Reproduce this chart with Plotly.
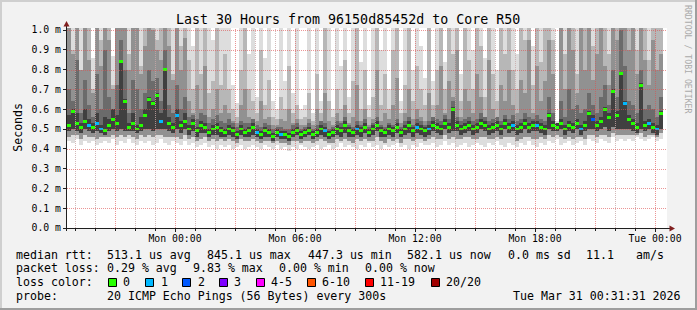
import plotly.graph_objects as go
import pandas as pd

# ---------------- data (values in hundredths of a millisecond) ----------------
MED = [52, 59, 53, 51, 54, 52, 51, 53, 50, 49,
       52, 55, 53, 84, 64, 51, 53, 50, 52, 57,
       65, 63, 67, 54, 80, 53, 51, 57, 52, 54,
       50, 53, 49, 52, 51, 48, 50, 51, 49, 48,
       50, 49, 47, 50, 48, 49, 51, 48, 47, 49,
       48, 46, 48, 47, 47, 46, 48, 49, 47, 48,
       49, 47, 48, 50, 49, 47, 48, 50, 49, 52,
       49, 48, 50, 49, 51, 48, 50, 52, 49, 48,
       50, 49, 51, 48, 50, 52, 49, 51, 50, 49,
       50, 52, 51, 50, 53, 51, 60, 52, 50, 51,
       52, 50, 51, 53, 52, 50, 51, 52, 50, 53,
       51, 52, 50, 51, 53, 51, 52, 52, 51, 50,
       57, 52, 51, 53, 50, 52, 51, 53, 50, 52,
       58, 55, 52, 54, 60, 56, 69, 57, 78, 63,
       55, 53, 51, 72, 52, 53, 51, 50, 58]

LOSS = [0, 0, 0, 0, 0, 1, 0, 1, 1, 0,
        0, 0, 0, 0, 0, 0, 0, 0, 0, 0,
        0, 0, 0, 1, 0, 0, 0, 1, 0, 0,
        0, 0, 0, 0, 0, 0, 0, 0, 0, 0,
        0, 0, 0, 0, 0, 0, 0, 1, 0, 0,
        0, 0, 0, 1, 0, 0, 0, 0, 0, 0,
        0, 0, 0, 0, 1, 0, 0, 0, 0, 0,
        0, 0, 1, 0, 0, 0, 0, 0, 0, 0,
        0, 0, 0, 0, 0, 0, 0, 1, 0, 0,
        1, 0, 0, 0, 0, 0, 0, 0, 0, 0,
        0, 0, 0, 0, 0, 0, 0, 0, 0, 0,
        0, 1, 0, 0, 0, 0, 0, 1, 0, 0,
        0, 0, 0, 0, 0, 0, 0, 0, 1, 0,
        0, 2, 0, 0, 0, 0, 0, 0, 0, 1,
        0, 0, 0, 0, 0, 1, 0, 1, 0]

TOP = [105, 105, 105, 105, 105, 105, 86, 105, 105, 105,
       105, 87, 105, 105, 105, 105, 105, 105, 105, 105,
       105, 105, 105, 105, 105, 105, 105, 105, 105, 105,
       105, 92, 105, 105, 105, 105, 95, 105, 105, 105,
       105, 72, 63, 105, 105, 88, 105, 66, 105, 86,
       105, 64, 60, 105, 74, 105, 68, 105, 60, 62,
       105, 58, 105, 64, 105, 105, 60, 105, 82, 105,
       66, 105, 105, 84, 105, 62, 105, 105, 90, 105,
       70, 105, 105, 64, 105, 105, 80, 105, 92, 76,
       105, 74, 105, 105, 84, 105, 105, 105, 78, 105,
       105, 90, 105, 105, 86, 105, 105, 80, 105, 105,
       105, 105, 88, 105, 105, 105, 92, 105, 105, 105,
       105, 105, 54, 105, 105, 105, 105, 105, 105, 105,
       105, 105, 105, 105, 105, 105, 105, 105, 105, 105,
       105, 105, 105, 105, 105, 105, 105, 105, 105]

HI_B = [105, 90, 105, 80, 105, 105, 70, 105, 95, 105,
        105, 72, 105, 105, 105, 88, 105, 105, 82, 105,
        105, 105, 95, 105, 105, 105, 78, 105, 92, 105,
        85, 70, 105, 78, 105, 68, 74, 105, 72, 88,
        70, 60, 56, 80, 105, 70, 64, 58, 90, 62,
        75, 56, 55, 66, 60, 82, 58, 62, 55, 56,
        68, 54, 78, 58, 105, 64, 56, 70, 60, 85,
        58, 74, 105, 60, 80, 56, 66, 105, 62, 78,
        60, 90, 105, 58, 72, 105, 64, 82, 70, 62,
        105, 62, 80, 105, 70, 105, 88, 105, 64, 105,
        85, 70, 105, 92, 66, 105, 78, 64, 105, 88,
        105, 80, 70, 105, 95, 105, 72, 105, 84, 105,
        105, 95, 53, 105, 88, 105, 105, 78, 105, 105,
        105, 92, 105, 105, 105, 88, 105, 105, 105, 105,
        105, 105, 90, 105, 105, 85, 105, 105, 105]

HI_C = [105, 88, 105, 80, 105, 85, 68, 105, 82, 105,
        95, 70, 105, 105, 105, 80, 105, 105, 78, 92,
        105, 100, 90, 85, 105, 92, 75, 105, 80, 96,
        64, 58, 72, 60, 82, 56, 60, 70, 58, 62,
        58, 54, 53, 62, 70, 56, 55, 54, 64, 55,
        56, 52, 52, 55, 54, 60, 53, 55, 52, 52,
        55, 52, 60, 53, 68, 54, 52, 58, 54, 62,
        53, 56, 72, 54, 60, 52, 55, 80, 54, 58,
        55, 62, 76, 53, 58, 70, 55, 60, 56, 54,
        68, 56, 62, 82, 58, 74, 66, 90, 56, 70,
        64, 58, 78, 66, 56, 85, 60, 56, 72, 64,
        80, 62, 58, 75, 68, 95, 58, 82, 64, 74,
        95, 78, 52, 105, 70, 105, 90, 68, 105, 80,
        105, 75, 88, 105, 82, 72, 105, 95, 105, 105,
        90, 105, 78, 105, 85, 72, 95, 80, 88]

HI_D = [70, 64, 85, 58, 75, 62, 56, 78, 60, 90,
        66, 60, 72, 95, 80, 58, 75, 70, 60, 68,
        80, 74, 76, 64, 90, 62, 58, 72, 60, 66,
        56, 57, 55, 58, 57, 53, 55, 57, 54, 53,
        55, 53, 51, 54, 53, 53, 55, 52, 51, 53,
        52, 50, 51, 51, 50, 50, 52, 53, 50, 51,
        53, 50, 52, 54, 53, 50, 51, 54, 53, 56,
        52, 51, 54, 52, 55, 51, 53, 56, 52, 51,
        53, 52, 55, 51, 54, 56, 52, 55, 54, 52,
        54, 56, 55, 54, 57, 55, 64, 56, 54, 55,
        56, 54, 55, 58, 56, 54, 55, 56, 54, 57,
        55, 57, 54, 55, 58, 56, 55, 57, 55, 54,
        66, 58, 51, 64, 56, 70, 60, 62, 58, 60,
        68, 62, 58, 66, 72, 62, 80, 66, 100, 82,
        64, 62, 58, 80, 60, 62, 60, 56, 66]

HI_E = [57, 60, 58, 53, 60, 55, 53, 58, 52, 56,
        55, 60, 57, 85, 65, 53, 58, 52, 56, 60,
        66, 64, 68, 58, 81, 56, 53, 60, 54, 58,
        52, 55, 51, 54, 53, 50, 52, 53, 51, 50,
        52, 51, 49, 52, 50, 51, 53, 50, 49, 51,
        50, 48, 50, 49, 49, 48, 50, 51, 49, 50,
        51, 49, 50, 52, 51, 49, 50, 52, 51, 54,
        51, 50, 52, 51, 53, 50, 52, 54, 51, 50,
        52, 51, 53, 50, 52, 54, 51, 53, 52, 51,
        52, 54, 53, 52, 55, 53, 61, 54, 52, 53,
        54, 52, 53, 55, 54, 52, 53, 54, 52, 55,
        53, 54, 52, 53, 55, 53, 54, 54, 53, 52,
        58, 54, 53, 55, 52, 54, 53, 55, 52, 54,
        59, 57, 54, 56, 61, 58, 70, 59, 79, 64,
        57, 55, 53, 73, 54, 55, 53, 52, 59]

LOW_A = [44, 43, 45, 42, 44, 43, 44, 42, 43, 44,
         43, 45, 42, 44, 43, 45, 43, 42, 44, 43,
         44, 42, 43, 45, 43, 42, 44, 43, 42, 44,
         42, 43, 41, 42, 43, 41, 42, 40, 42, 41,
         42, 40, 41, 42, 40, 41, 42, 41, 40, 42,
         41, 40, 42, 40, 41, 39, 41, 40, 42, 41,
         40, 41, 42, 40, 41, 42, 40, 41, 43, 41,
         42, 41, 40, 42, 41, 43, 41, 42, 40, 42,
         41, 42, 43, 41, 42, 40, 42, 41, 43, 42,
         42, 43, 41, 42, 44, 42, 43, 41, 42, 43,
         41, 42, 43, 42, 41, 43, 42, 44, 42, 41,
         43, 42, 41, 43, 42, 44, 42, 41, 43, 42,
         44, 43, 45, 42, 43, 44, 42, 43, 44, 42,
         45, 44, 43, 45, 44, 43, 46, 44, 45, 44,
         45, 44, 46, 45, 44, 45, 46, 44, 45]

LOW_C = [46, 47, 47, 45, 47, 46, 46, 45, 46, 46,
         46, 47, 46, 47, 46, 47, 46, 45, 47, 46,
         47, 46, 47, 47, 46, 46, 46, 46, 45, 47,
         45, 46, 44, 45, 46, 44, 45, 44, 45, 44,
         45, 44, 43, 45, 44, 44, 45, 44, 43, 44,
         44, 43, 44, 43, 43, 42, 44, 44, 43, 44,
         44, 43, 44, 45, 44, 43, 43, 45, 44, 45,
         44, 43, 45, 44, 45, 44, 44, 46, 44, 43,
         45, 44, 45, 43, 45, 45, 44, 45, 45, 44,
         45, 46, 45, 45, 47, 45, 46, 45, 45, 46,
         46, 45, 45, 46, 46, 45, 45, 46, 45, 46,
         46, 46, 44, 45, 46, 46, 45, 45, 46, 45,
         47, 46, 47, 46, 45, 46, 45, 46, 46, 45,
         47, 47, 46, 47, 47, 46, 48, 47, 47, 47,
         47, 47, 47, 48, 46, 47, 47, 46, 48]

LOW_E = [49, 50, 49, 48, 50, 49, 48, 49, 48, 47,
         49, 50, 49, 50, 49, 49, 49, 48, 49, 50,
         50, 49, 50, 50, 50, 49, 48, 50, 48, 50,
         47, 49, 46, 48, 48, 46, 47, 47, 46, 46,
         47, 46, 45, 47, 46, 46, 47, 46, 45, 46,
         46, 44, 46, 45, 45, 44, 46, 47, 45, 46,
         47, 45, 46, 47, 46, 45, 46, 47, 46, 48,
         46, 46, 47, 46, 48, 46, 47, 49, 46, 46,
         47, 46, 48, 46, 47, 48, 46, 48, 47, 46,
         47, 49, 48, 47, 50, 48, 49, 49, 47, 48,
         49, 47, 48, 50, 49, 47, 48, 49, 47, 50,
         48, 49, 47, 48, 50, 48, 49, 49, 48, 47,
         50, 49, 49, 50, 47, 49, 48, 50, 47, 49,
         50, 50, 49, 50, 51, 49, 51, 50, 50, 50,
         50, 49, 48, 50, 49, 50, 48, 47, 50]

Y_TICKS = [0.0, 0.1, 0.2, 0.3, 0.4, 0.5, 0.6, 0.7, 0.8, 0.9, 1.0]
Y_TICK_TEXT = ["0.0 m", "0.1 m", "0.2 m", "0.3 m", "0.4 m", "0.5 m",
               "0.6 m", "0.7 m", "0.8 m", "0.9 m", "1.0 m"]
X_TICKS = ["2026-03-30 00:00", "2026-03-30 06:00", "2026-03-30 12:00",
           "2026-03-30 18:00", "2026-03-31 00:00"]
X_TICK_TEXT = ["Mon 00:00", "Mon 06:00", "Mon 12:00", "Mon 18:00", "Tue 00:00"]

LOSS_LABELS = ["0", "1", "2", "3", "4-5", "6-10", "11-19", "20/20"]
LOSS_COLORS = ["#26ff00", "#00b8ff", "#0059ff", "#7e00ff", "#ff00ff",
               "#ff5500", "#ff0000", "#a10000"]

TITLE = "Last 30 Hours from 96150d85452d to Core R50"
STATS_RTT = ["513.1 us avg", "845.1 us max", "447.3 us min", "582.1 us now",
             "0.0 ms sd", "11.1", "am/s"]
STATS_LOSS = ["0.29 % avg", "9.83 % max", "0.00 % min", "0.00 % now"]
PROBE = "20 ICMP Echo Pings (56 Bytes) every 300s"
STAMP = "Tue Mar 31 00:31:31 2026"

# ---------------- layout constants ----------------
START = pd.Timestamp("2026-03-29 18:36")
END = pd.Timestamp("2026-03-31 00:36")
STEP = pd.Timedelta(minutes=12)
YMAX = 1.0101
PL, PT, PW, PH = 67, 28, 600, 200
W, H = 697, 310
MONO = "DejaVu Sans Mono"


def fx(px):
    return (px - PL) / PW


def fy(py):
    return (PT + PH - py) / PH


n = len(MED)
times = [START + STEP * (i + 0.5) for i in range(n)]
bar_w = STEP.total_seconds() * 1000

fig = go.Figure()
bands = [(LOW_A, TOP, "#dddddd"), (LOW_C, HI_B, "#b7b7b7"), (LOW_C, HI_C, "#919191"),
         (LOW_E, HI_D, "#6b6b6b"), (LOW_E, HI_E, "#404040")]
for lo, hi, col in bands:
    fig.add_trace(go.Bar(
        x=times, y=[(h - l) / 100 for l, h in zip(lo, hi)], base=[l / 100 for l in lo],
        width=bar_w, marker=dict(color=col, line=dict(width=0)), hoverinfo="skip"))

MARK_H = 0.015
fig.add_trace(go.Bar(
    x=times, y=[MARK_H] * n, base=[m / 100 - MARK_H / 2 for m in MED], width=bar_w,
    marker=dict(color=[LOSS_COLORS[v] for v in LOSS], line=dict(width=0)),
    hoverinfo="skip"))

shapes = []
# grid (drawn over the smoke like rrdtool)
half_px_t = pd.Timedelta(seconds=90)
for h in pd.date_range("2026-03-29 19:00", "2026-03-31 00:00", freq="h"):
    major = h.hour % 3 == 0
    shapes.append(dict(type="line", xref="x", yref="y", x0=h + half_px_t, x1=h + half_px_t,
                       y0=0, y1=YMAX, layer="above",
                       line=dict(color="rgba(222,79,79,0.6)" if major else "rgba(200,168,168,0.8)",
                                 width=1, dash="1px,1px")))
for v in Y_TICKS[1:]:
    py = round(PT + PH - v * PH / YMAX) + 0.5
    yv = (PT + PH - py) * YMAX / PH
    shapes.append(dict(type="line", xref="x", yref="y", x0=START, x1=END, y0=yv, y1=yv,
                       layer="above",
                       line=dict(color="rgba(222,79,79,0.6)", width=1, dash="1px,1px")))

# axes
AX = "#1f1f1f"
shapes.append(dict(type="line", xref="paper", yref="paper", x0=fx(63), x1=fx(670),
                   y0=fy(228.5), y1=fy(228.5), line=dict(color=AX, width=1), layer="above"))
shapes.append(dict(type="line", xref="paper", yref="paper", x0=fx(66.5), x1=fx(66.5),
                   y0=fy(231), y1=fy(24), line=dict(color=AX, width=1), layer="above"))
ARROW = "#801f1f"
shapes.append(dict(type="path", xref="paper", yref="paper",
                   path=f"M{fx(66.5)},{fy(21)} L{fx(63.5)},{fy(26.5)} L{fx(69.5)},{fy(26.5)} Z",
                   fillcolor=ARROW, line=dict(width=0), layer="above"))
shapes.append(dict(type="path", xref="paper", yref="paper",
                   path=f"M{fx(675)},{fy(228.5)} L{fx(669.5)},{fy(225.5)} L{fx(669.5)},{fy(231.5)} Z",
                   fillcolor=ARROW, line=dict(width=0), layer="above"))

# frame
for (x0, y0, x1, y1, c) in [(0, 0, W, 2, "#cfcfcf"), (0, 0, 2, H, "#cfcfcf"),
                            (0, H - 2, W, H, "#9e9e9e"), (W - 2, 0, W, H, "#9e9e9e")]:
    shapes.append(dict(type="rect", xref="paper", yref="paper", x0=fx(x0), x1=fx(x1),
                       y0=fy(y0), y1=fy(y1), fillcolor=c, line=dict(width=0), layer="above"))

# loss colour boxes
BOX_X = [108.5, 145.5, 182.5, 219.5, 256.5, 307.5, 365.5, 431.5]
LAB_X = [123.3, 161, 197.7, 234.3, 271, 322.3, 380, 446]
for bx, col in zip(BOX_X, LOSS_COLORS):
    shapes.append(dict(type="rect", xref="paper", yref="paper", x0=fx(bx), x1=fx(bx + 8),
                       y0=fy(278.5), y1=fy(286.5), fillcolor=col,
                       line=dict(color="#000000", width=1), layer="above"))

annotations = []


def txt(s, px, py, size=11.6, anchor="left", color="#000000", angle=0):
    annotations.append(dict(text=s, x=fx(px), y=fy(py), xref="paper", yref="paper",
                            xanchor=anchor, yanchor="middle", showarrow=False,
                            textangle=angle, borderpad=0, borderwidth=0,
                            font=dict(family=MONO, size=size, color=color)))


txt(TITLE, 347.7, 19, size=13.3, anchor="center")
txt("Seconds", 10.3, 127.5, angle=-90)
txt("RRDTOOL / TOBI OETIKER", 688, 59, size=8.2, anchor="center", color="#aaaaaa", angle=90)

L1, L2, L3, L4 = 254.7, 268.2, 282.2, 295.7
txt("median rtt:", 16, L1)
for s, x in zip(STATS_RTT, [107.3, 207.3, 308, 407.3, 507.7, 586, 636]):
    txt(s, x, L1)
txt("packet loss:", 16, L2)
for s, x in zip(STATS_LOSS, [107.3, 193.3, 279.3, 365.3]):
    txt(s, x, L2)
txt("loss color:", 16, L3)
for s, x in zip(LOSS_LABELS, LAB_X):
    txt(s, x, L3)
txt("probe:", 16, L4)
txt(PROBE, 107.3, L4)
txt(STAMP, 680.5, L4, anchor="right")

fig.update_layout(
    width=W, height=H, autosize=False,
    margin=dict(l=PL, r=W - PL - PW, t=PT, b=H - PT - PH, pad=0),
    paper_bgcolor="#f2f2f2", plot_bgcolor="#ffffff",
    barmode="overlay", bargap=0, showlegend=False,
    font=dict(family=MONO, color="#000000"),
    shapes=shapes, annotations=annotations,
)
fig.update_xaxes(type="date", range=[START, END], tickvals=X_TICKS, ticktext=X_TICK_TEXT,
                 ticks="outside", ticklen=3, tickcolor=AX, tickfont=dict(family=MONO, size=9.8),
                 ticklabelstandoff=-2,
                 showgrid=False, zeroline=False, showline=False, fixedrange=True,
                 minor=dict(ticks="outside", ticklen=2, dtick=3600000,
                            tick0="2026-03-29 19:00", tickcolor=AX, showgrid=False))
fig.update_yaxes(range=[0, YMAX], tickvals=Y_TICKS, ticktext=Y_TICK_TEXT,
                 ticks="outside", ticklen=3, tickcolor=AX, tickfont=dict(family=MONO, size=9.8),
                 showgrid=False, zeroline=False, showline=False, fixedrange=True)

fig.write_html("out.html", config={"displayModeBar": False})
